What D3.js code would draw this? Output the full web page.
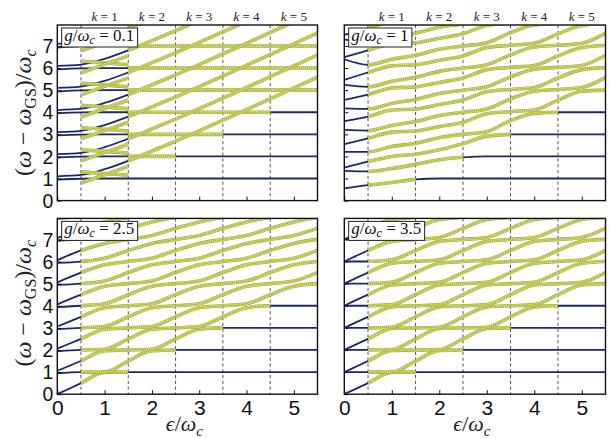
<!DOCTYPE html>
<html><head><meta charset="utf-8">
<script src="https://cdnjs.cloudflare.com/ajax/libs/d3/7.8.5/d3.min.js"></script>
<style>body{margin:0;background:#fff}</style>
</head><body><svg id="c" width="609" height="438"></svg>
<script>
// ---------------- data ----------------
const EPS = [0,0.5,1,1.5,2,2.5,3,3.5,4,4.5,5,5.5];   // epsilon/omega_c sample points
const EPS_W1 = [0.5,1,1.5];                           // window k=1 samples (g=0.1 approximation)
const xTicks = [0,1,2,3,4,5];
const yTicks = [0,1,2,3,4,5,6,7];
const kWindows = [1,2,3,4,5];
const dashPos = [0.5,1.5,2.5,3.5,4.5];
const gValues = ["0.1","1","2.5","3.5"];

// g/wc = 0.1 : horizontal levels and rising levels (level 99 = covered in every window)
const g01_levels = [1,2,3,4,5,6,7,99,99,99,99,99,99,99];
const g01_values = [
 [0.95,0.99,1,1,1,1,1,1,1,1,1,1],
 [1.95,1.99,2,2,2,2,2,2,2,2,2,2],
 [2.95,2.99,3,3,3,3,3,3,3,3,3,3],
 [3.95,3.99,4,4,4,4,4,4,4,4,4,4],
 [4.94,4.99,5,5,5,5,5,5,5,5,5,5],
 [5.94,5.99,6,6,6,6,6,6,6,6,6,6],
 [6.93,6.99,7,7,7,7,7,7,7,7,7,7],
 [1.1,1.16,1.42,1.8,2.24,2.69,3.16,3.64,4.12,4.61,5.1,5.59],
 [2.1,2.16,2.42,2.8,3.24,3.69,4.16,4.64,5.12,5.61,6.1,6.59],
 [3.1,3.16,3.42,3.8,4.24,4.69,5.16,5.64,6.12,6.61,7.1,7.59],
 [4.1,4.16,4.42,4.8,5.24,5.69,6.16,6.64,7.12,7.61,8.1,8.59],
 [5.1,5.16,5.42,5.8,6.24,6.69,7.16,7.64,8.12,8.61,9.1,9.59],
 [6.1,6.16,6.42,6.8,7.24,7.69,8.16,8.64,9.12,9.61,10.1,10.59],
 [7.1,7.16,7.42,7.8,8.24,8.69,9.16,9.64,10.12,10.61,11.1,11.59]
];
// g/wc = 0.1, window k=1 approximate levels (yellow)
const g01_win1 = [
 [1.3,1.23,1.15],[0.8,1.17,1.55],
 [2.3,2.23,2.15],[1.8,2.17,2.55],
 [3.3,3.23,3.15],[2.8,3.17,3.55],
 [4.32,4.24,4.15],[3.78,4.17,4.55],
 [5.32,5.24,5.15],[4.78,5.17,5.55],
 [6.32,6.24,6.15],[5.78,6.17,6.55],
 [7.32,7.24,7.15],[6.78,7.17,7.55]
];

// g/wc = 1
const g1_levels = [1,2,3,4,5,6,7,8,9,10,11,12,13,14,15];
const g1_values = [
 [0.55,0.70,0.82,0.96,1.0,1.0,1.0,1.0,1.0,1.0,1.0,1.0],
 [1.35,1.32,1.45,1.64,1.85,1.96,2.0,2.0,2.0,2.0,2.0,2.0],
 [1.49,1.76,2.0,2.1,2.3,2.58,2.92,3.0,3.0,3.0,3.0,3.0],
 [2.21,2.21,2.45,2.6,2.85,3.0,3.12,3.62,3.95,4.0,4.0,4.0],
 [2.56,2.82,3.1,3.15,3.35,3.55,3.93,4.03,4.1,4.55,4.95,5.0],
 [3.2,3.17,3.4,3.58,3.85,4.0,4.15,4.6,4.95,5.03,5.12,5.58],
 [3.6,3.8,4.1,4.15,4.35,4.55,4.93,5.03,5.12,5.55,5.93,6.02],
 [4.18,4.15,4.4,4.58,4.85,5.0,5.15,5.6,5.95,6.03,6.12,6.58],
 [4.56,4.8,5.1,5.15,5.35,5.55,5.93,6.03,6.12,6.55,6.93,7.02],
 [5.24,5.15,5.4,5.58,5.85,6.0,6.15,6.6,6.95,7.03,7.12,7.58],
 [5.47,5.8,6.1,6.15,6.35,6.55,6.93,7.03,7.12,7.55,7.93,8.02],
 [6.4,6.15,6.4,6.58,6.85,7.0,7.15,7.6,7.95,8.03,8.12,8.6],
 [6.5,6.8,7.1,7.15,7.35,7.55,7.93,8.03,8.12,8.55,8.9,9.0],
 [7.3,7.15,7.4,7.58,7.85,8.0,8.15,8.6,9.0,9.0,9.0,9.0],
 [7.5,7.8,8.1,8.15,8.35,8.55,8.9,9.0,9.0,9.0,9.0,9.0]
];

// g/wc = 2.5
const g25_levels = [1,2,3,4,5,6,7,8,9,10,11,12,13,14,15,16];
const g25_values = [
 [0,0.5,1,1,1,1,1,1,1,1,1,1],
 [0.94,1,1,1.5,1.97,2,2,2,2,2,2,2],
 [1.06,1.5,1.97,2,2.03,2.5,2.94,3,3,3,3,3],
 [1.94,2,2.03,2.5,2.94,3,3.06,3.5,3.91,4,4,4],
 [2.06,2.5,2.94,3,3.06,3.5,3.91,4,4.09,4.5,4.88,5],
 [2.94,3,3.06,3.5,3.91,4,4.09,4.5,4.88,5,5.12,5.5],
 [3.06,3.5,3.91,4,4.09,4.5,4.88,5,5.12,5.5,5.85,6],
 [3.94,4,4.09,4.5,4.88,5,5.12,5.5,5.85,6,6.15,6.5],
 [4.06,4.5,4.88,5,5.12,5.5,5.85,6,6.15,6.5,6.82,7],
 [4.94,5,5.12,5.5,5.85,6,6.15,6.5,6.82,7,7.18,7.5],
 [5.06,5.5,5.85,6,6.15,6.5,6.82,7,7.18,7.5,7.79,8],
 [5.94,6,6.15,6.5,6.82,7,7.18,7.5,7.79,8,8.21,8.5],
 [6.06,6.5,6.82,7,7.18,7.5,7.79,8,8.21,8.5,8.76,9],
 [6.94,7,7.18,7.5,7.79,8,8.21,8.5,8.76,9,9.24,9.5],
 [7.06,7.5,7.79,8,8.21,8.5,8.76,9,9.24,9.5,9.7,10],
 [7.94,8,8.21,8.5,8.76,9,9.24,9.5,9.7,10,10.3,10.5]
];

// g/wc = 3.5
const g35_levels = [1,2,3,4,5,6,7,8,9,10,11,12,13,14,15,16];
const g35_values = [
 [0,0.5,1,1,1,1,1,1,1,1,1,1],
 [1,1,1,1.5,1.98,2,2,2,2,2,2,2],
 [1,1.5,1.98,2,2.02,2.5,2.97,3,3,3,3,3],
 [2,2,2.02,2.5,2.97,3,3.03,3.5,3.95,4,4,4],
 [2,2.5,2.97,3,3.03,3.5,3.95,4,4.05,4.5,4.94,5],
 [3,3,3.03,3.5,3.95,4,4.05,4.5,4.94,5,5.06,5.5],
 [3,3.5,3.95,4,4.05,4.5,4.94,5,5.06,5.5,5.92,6],
 [4,4,4.05,4.5,4.94,5,5.06,5.5,5.92,6,6.08,6.5],
 [4,4.5,4.94,5,5.06,5.5,5.92,6,6.08,6.5,6.91,7],
 [5,5,5.06,5.5,5.92,6,6.08,6.5,6.91,7,7.09,7.5],
 [5,5.5,5.92,6,6.08,6.5,6.91,7,7.09,7.5,7.9,8],
 [6,6,6.08,6.5,6.91,7,7.09,7.5,7.9,8,8.1,8.5],
 [6,6.5,6.91,7,7.09,7.5,7.9,8,8.1,8.5,8.88,9],
 [7,7,7.09,7.5,7.9,8,8.1,8.5,8.88,9,9.12,9.5],
 [7,7.5,7.9,8,8.1,8.5,8.88,9,9.12,9.5,9.9,10],
 [8,8,8.1,8.5,8.88,9,9.12,9.5,9.9,10,10.1,10.5]
];

// ---------------- drawing ----------------
const svg = d3.select("#c");
const defs = svg.append("defs");
const SERIF = "'Liberation Serif','Times New Roman',serif";
const SANS = "'Liberation Sans',Arial,Helvetica,sans-serif";
const BLUE = "#1b296a", YEL_EDGE = "#a3a94a", YEL = "#d2d95a", DOT = "#505034";

const layout = [
 {x0:57.3, x1:317.5, yb:200.6, yt:25,   vals:g01_values, lv:g01_levels, wins:[2,3,4,5], w1:g01_win1, left:true,  bottom:false, top:true},
 {x0:344.3,x1:605.5, yb:200.6, yt:25,   vals:g1_values,  lv:g1_levels,  wins:kWindows, w1:null, left:false, bottom:false, top:true},
 {x0:57.3, x1:317.5, yb:394.2, yt:218.4,vals:g25_values, lv:g25_levels, wins:kWindows, w1:null, left:true,  bottom:true,  top:false},
 {x0:344.3,x1:605.5, yb:394.2, yt:218.4,vals:g35_values, lv:g35_levels, wins:kWindows, w1:null, left:false, bottom:true,  top:false}
];

function yellow(g, d, clip){
  g.append("path").attr("d",d).attr("clip-path",clip).attr("fill","none")
   .attr("stroke",YEL_EDGE).attr("stroke-width",3.6);
  g.append("path").attr("d",d).attr("clip-path",clip).attr("fill","none")
   .attr("stroke",YEL).attr("stroke-width",2.5);
  g.append("path").attr("d",d).attr("clip-path",clip).attr("fill","none")
   .attr("stroke",DOT).attr("stroke-width",0.9).attr("stroke-dasharray","0.7 1.3").attr("opacity",0.6);
}

layout.forEach((P,pi)=>{
  const x = d3.scaleLinear().domain([0,5.5]).range([P.x0,P.x1]);
  const y = d3.scaleLinear().domain([0,7.95]).range([P.yb,P.yt]);
  const g = svg.append("g");
  const cid = "clipP"+pi;
  defs.append("clipPath").attr("id",cid).append("rect")
    .attr("x",P.x0).attr("y",P.yt).attr("width",P.x1-P.x0).attr("height",P.yb-P.yt);
  kWindows.forEach(k=>{
    const a = Math.max(P.x0, x(k-0.5)), b = Math.min(P.x1, x(k+0.5));
    defs.append("clipPath").attr("id",`clipW${pi}_${k}`).append("rect")
      .attr("x",a).attr("y",P.yt).attr("width",b-a).attr("height",P.yb-P.yt);
  });
  const line = d3.line().x((d,i)=>x(EPS[i])).y(d=>y(d)).curve(d3.curveMonotoneX);
  const lineW1 = d3.line().x((d,i)=>x(EPS_W1[i])).y(d=>y(d)).curve(d3.curveMonotoneX);

  // dashed separators
  g.selectAll(".dash").data(dashPos).enter().append("line")
    .attr("x1",d=>x(d)).attr("x2",d=>x(d)).attr("y1",P.yt).attr("y2",P.yb)
    .attr("stroke","#555").attr("stroke-width",1).attr("stroke-dasharray","3.2 2.6");

  // blue exact levels
  P.vals.forEach(v=>{
    g.append("path").attr("d",line(v)).attr("clip-path",`url(#${cid})`).attr("fill","none")
     .attr("stroke",BLUE).attr("stroke-width",1.8);
  });
  // yellow approximate levels in each window
  P.wins.forEach(k=>{
    P.vals.forEach((v,ci)=>{
      if (P.lv[ci] >= k) yellow(g, line(v), `url(#clipW${pi}_${k})`);
    });
  });
  if (P.w1) P.w1.forEach(v=> yellow(g, lineW1(v), `url(#${cid})`));

  // frame
  g.append("rect").attr("x",P.x0).attr("y",P.yt).attr("width",P.x1-P.x0).attr("height",P.yb-P.yt)
    .attr("fill","none").attr("stroke","#111").attr("stroke-width",1.4);

  // axes
  const ax = g.append("g").attr("transform",`translate(${P.x0},0)`)
    .call(d3.axisLeft(y).tickValues(yTicks).tickSize(-4).tickPadding(4)
      .tickFormat(P.left? d3.format("d") : ()=>""));
  const bx = g.append("g").attr("transform",`translate(0,${P.yb})`)
    .call(d3.axisBottom(x).tickValues(xTicks).tickSize(-4).tickPadding(6)
      .tickFormat(P.bottom? d3.format("d") : ()=>""));
  [ax,bx].forEach(a=>{
    a.select(".domain").remove();
    a.selectAll("line").attr("stroke","#111").attr("stroke-width",1);
    a.selectAll("text").style("font-family",SANS).attr("fill","#111");
  });
  ax.selectAll("text").style("font-size","19.5px").attr("dy","0.34em");
  bx.selectAll("text").style("font-size","21px");

  // legend box
  const lg = g.append("g");
  const lt = lg.append("text").attr("x",P.x0+7).attr("y",P.yt+16)
    .style("font-family",SERIF).style("font-size","17px").attr("fill","#111");
  lt.append("tspan").style("font-style","italic").text("g");
  lt.append("tspan").text("/");
  lt.append("tspan").style("font-style","italic").text("ω");
  lt.append("tspan").style("font-style","italic").style("font-size","12px").attr("dy",3).text("c");
  lt.append("tspan").attr("dy",-3).text(" = " + gValues[pi]);
  const tw = lt.node().getComputedTextLength();
  lg.insert("rect","text").attr("x",P.x0+4.4).attr("y",P.yt+3).attr("width",tw+6).attr("height",19)
    .attr("fill","#fff").attr("stroke","#222").attr("stroke-width",1);

  // k labels
  if (P.top){
    kWindows.forEach(k=>{
      const t = svg.append("text").attr("x",x(k)).attr("y",21).attr("text-anchor","middle")
        .style("font-family",SERIF).style("font-size","13px").attr("fill","#222");
      t.append("tspan").style("font-style","italic").text("k");
      t.append("tspan").text(" = " + k);
    });
  }
  // y label
  if (P.left){
    const cy = (P.yt+P.yb)/2 - (P.bottom?3:0);
    const yl = svg.append("text").attr("transform",`translate(31,${cy}) rotate(-90)`)
      .attr("text-anchor","middle").style("font-family",SERIF).style("font-size","24px").attr("fill","#222");
    yl.append("tspan").text("(");
    yl.append("tspan").style("font-style","italic").text("ω");
    yl.append("tspan").text(" − ");
    yl.append("tspan").style("font-style","italic").text("ω");
    yl.append("tspan").style("font-size","16px").attr("dy",5).text("GS");
    yl.append("tspan").attr("dy",-5).text(")/");
    yl.append("tspan").style("font-style","italic").text("ω");
    yl.append("tspan").style("font-style","italic").style("font-size","16px").attr("dy",5).text("c");
  }
  // x label
  if (P.bottom){
    const xl = svg.append("text").attr("x",(P.x0+P.x1)/2-3).attr("y",431).attr("text-anchor","middle")
      .style("font-family",SERIF).style("font-size","22px").attr("fill","#222");
    xl.append("tspan").style("font-style","italic").text("ϵ");
    xl.append("tspan").text("/");
    xl.append("tspan").style("font-style","italic").text("ω");
    xl.append("tspan").style("font-style","italic").style("font-size","15px").attr("dy",5).text("c");
  }
});
</script>
</body></html>
